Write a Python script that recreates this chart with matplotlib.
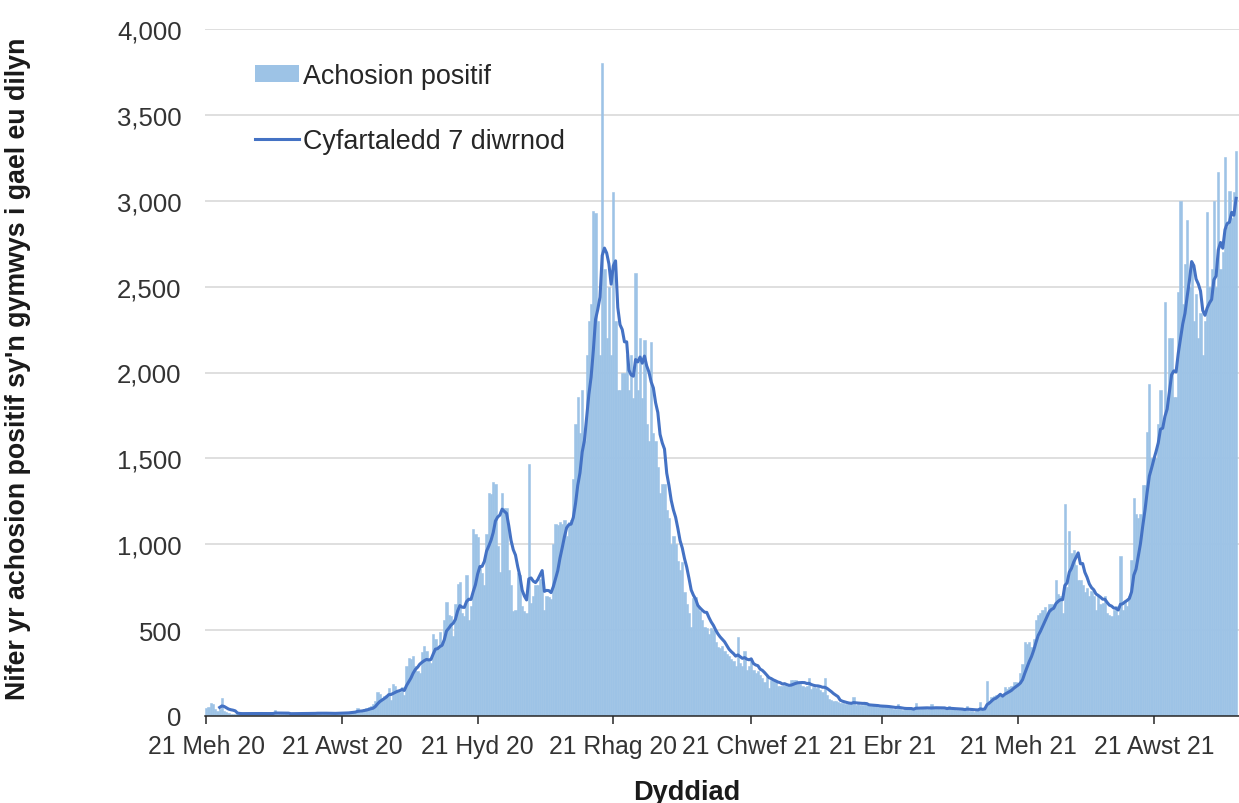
import numpy as np
import pandas as pd
import matplotlib
matplotlib.use("Agg")
import matplotlib.pyplot as plt
import matplotlib.dates as mdates
from matplotlib.patches import Patch
from matplotlib.lines import Line2D

start_date = "2020-06-21"

# daily positive cases, one row per week
positive_cases = [
    45, 50, 75, 72, 40, 30, 38,
    105, 30, 22, 18, 13, 12, 10,
    16, 14, 15, 17, 15, 13, 15,
    14, 13, 15, 16, 14, 12, 14,
    14, 15, 16, 37, 13, 12, 12,
    14, 15, 13, 16, 14, 13, 13,
    15, 16, 14, 15, 16, 14, 15,
    17, 22, 15, 14, 15, 16, 13,
    16, 18, 15, 17, 20, 16, 17,
    20, 22, 25, 28, 30, 48, 23,
    30, 38, 45, 52, 60, 70, 90,
    140, 130, 105, 115, 125, 165, 95,
    185, 175, 150, 140, 170, 125, 294,
    340, 330, 350, 290, 260, 250, 370,
    405, 380, 330, 310, 480, 450, 390,
    490, 430, 560, 665, 590, 580, 465,
    650, 770, 780, 600, 580, 820, 560,
    640, 1090, 1060, 1040, 880, 830, 760,
    1060, 1300, 1290, 1360, 1350, 990, 840,
    1300, 1210, 1210, 850, 760, 610, 620,
    830, 820, 640, 610, 600, 1467, 660,
    700, 760, 760, 800, 780, 620, 700,
    690, 680, 1000, 1120, 1110, 1130, 1120,
    1140, 1050, 1130, 1140, 1380, 1700, 1860,
    1650, 1900, 1600, 2100, 2300, 2400, 2940,
    2930, 2300, 2100, 3800, 2600, 2200, 2500,
    2100, 3050, 2300, 1900, 1900, 2000, 2000,
    2100, 1900, 2100, 1850, 2580, 1900, 2200,
    1850, 2190, 1700, 1600, 2180, 1650, 1600,
    1450, 1300, 1350, 1350, 1200, 1150, 1000,
    1050, 1000, 900, 850, 896, 720, 650,
    600, 521, 687, 690, 640, 614, 560,
    520, 510, 479, 510, 500, 430, 400,
    396, 410, 380, 360, 350, 330, 320,
    290, 460, 310, 290, 380, 270, 290,
    330, 270, 250, 260, 240, 220, 200,
    230, 165, 210, 205, 200, 175, 175,
    175, 178, 172, 175, 210, 212, 208,
    200, 185, 175, 170, 175, 219, 160,
    168, 165, 170, 150, 140, 219, 120,
    100, 95, 90, 85, 80, 75, 78,
    72, 70, 68, 75, 109, 65, 70,
    65, 62, 68, 64, 60, 58, 62,
    58, 55, 52, 60, 56, 50, 54,
    45, 42, 40, 70, 38, 36, 40,
    40, 42, 38, 44, 76, 40, 42,
    45, 44, 42, 40, 72, 45, 48,
    44, 42, 40, 38, 45, 60, 40,
    38, 36, 35, 34, 38, 40, 60,
    30, 28, 26, 30, 35, 83, 40,
    45, 202, 90, 110, 118, 120, 115,
    130, 125, 169, 160, 170, 175, 198,
    200, 190, 250, 300, 431, 420, 430,
    400, 450, 560, 590, 600, 620, 633,
    600, 650, 650, 640, 789, 711, 700,
    600, 1233, 750, 1078, 950, 967, 880,
    790, 789, 760, 720, 744, 700, 730,
    700, 620, 700, 650, 660, 700, 600,
    590, 580, 620, 640, 590, 933, 620,
    667, 640, 700, 911, 1267, 1178, 1150,
    1178, 1344, 1344, 1655, 1933, 1500, 1500,
    1500, 1700, 1900, 1700, 2411, 1800, 2200,
    2200, 1855, 1855, 2466, 3000, 2400, 2633,
    2889, 2500, 2633, 2300, 2455, 2200, 2344,
    2100, 2300, 2933, 2500, 2600, 3000, 2500,
    3166, 2600, 2700, 3255, 2850, 3055, 2900,
    3050, 3289,
]

tick_dates = ["2020-06-21", "2020-08-21", "2020-10-21", "2020-12-21",
              "2021-02-21", "2021-04-21", "2021-06-21", "2021-08-21"]
tick_labels = ["21 Meh 20", "21 Awst 20", "21 Hyd 20", "21 Rhag 20",
               "21 Chwef 21", "21 Ebr 21", "21 Meh 21", "21 Awst 21"]
y_ticks = [0, 500, 1000, 1500, 2000, 2500, 3000, 3500, 4000]

bar_label = "Achosion positif"
line_label = "Cyfartaledd 7 diwrnod"
y_title = "Nifer yr achosion positif sy'n gymwys i gael eu dilyn"
x_title = "Dyddiad"

BAR_COLOR = "#9DC3E6"
LINE_COLOR = "#4472C4"
TEXT_COLOR = "#333333"


def main():
    plt.rcParams['font.family'] = ['Liberation Sans', 'DejaVu Sans']

    dates = pd.date_range(start_date, periods=len(positive_cases), freq='D')
    cases = pd.Series(positive_cases, index=dates)
    avg7 = cases.rolling(7).mean()  # trailing 7 day mean, as in the source

    fig = plt.figure(figsize=(12.39, 8.04), dpi=100)
    ax = fig.add_axes([205.2 / 1239, 87 / 804, 1 - 205.2 / 1239, 687 / 804])

    # thin edge in the bar colour closes the seams between neighbouring bars
    ax.bar(dates, cases.values, width=1.0, color=BAR_COLOR,
           edgecolor=BAR_COLOR, linewidth=0.4, zorder=2)
    ax.plot(dates, avg7.values, color=LINE_COLOR, lw=2.2, zorder=3)

    x0 = mdates.date2num(dates[0])
    ax.set_xlim(x0 - 0.5, x0 + 464.3)
    ax.set_ylim(0, 4000)

    ax.set_yticks(y_ticks)
    ax.set_yticklabels([f"{v:,}" for v in y_ticks])
    ax.set_xticks(pd.to_datetime(tick_dates))
    ax.set_xticklabels(tick_labels)

    ax.yaxis.grid(True, color='#D9D9D9', lw=1.2)
    ax.set_axisbelow(True)
    for side in ['top', 'right', 'left']:
        ax.spines[side].set_visible(False)
    ax.spines['bottom'].set_color('#262626')
    ax.spines['bottom'].set_linewidth(1.1)
    ax.spines['bottom'].set_zorder(4)

    ax.tick_params(axis='x', length=5.8, width=1.1, color='#262626',
                   labelsize=17.8, labelcolor=TEXT_COLOR, pad=7)
    ax.tick_params(axis='y', length=0, labelsize=18.5,
                   labelcolor=TEXT_COLOR, pad=17)

    handles = [Patch(facecolor=BAR_COLOR, edgecolor='none'),
               Line2D([0], [0], color=LINE_COLOR, lw=2.2)]
    ax.legend(handles, [bar_label, line_label], loc='upper left',
              bbox_to_anchor=(0.048, 0.950), frameon=False, fontsize=19.4,
              handlelength=1.65, handleheight=0.6, handletextpad=0.12,
              labelspacing=1.45, borderpad=0, borderaxespad=0,
              labelcolor='#262626')

    fig.text(18 / 1239, 1 - 369 / 804, y_title, rotation=90, ha='center',
             va='center', fontsize=19.3, fontweight='bold', color='#1a1a1a')
    fig.text(687 / 1239, 1 - 793 / 804, x_title, ha='center', va='center',
             fontsize=19.6, fontweight='bold', color='#1a1a1a')

    fig.savefig('out.png', dpi=100)
    plt.close(fig)


if __name__ == "__main__":
    main()
